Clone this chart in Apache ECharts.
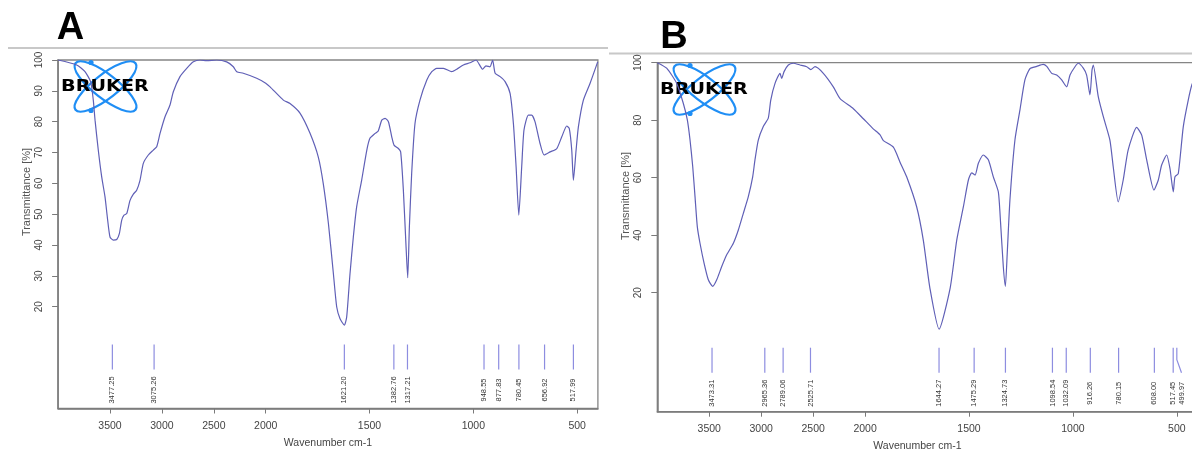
<!DOCTYPE html>
<html><head><meta charset="utf-8">
<script src="https://cdn.jsdelivr.net/npm/echarts@6/dist/echarts.min.js"></script>
<style>html,body{margin:0;padding:0;background:#fff}#c{width:1192px;height:450px}</style>
</head><body><div id="c"></div>
<script>
// ---- data ----
const xTickLabels = [3500, 3000, 2500, 2000, 1500, 1000, 500];
const yTicksA = [20, 30, 40, 50, 60, 70, 80, 90, 100];
const yTicksB = [20, 40, 60, 80, 100];

const wavenumberA = [4000,3821,3741,3686,3661,3644,3613,3580,3548,3526,3500,3468,3435,3410,3387,3365,3339,3307,3275,3243,3211,3179,3131,3083,3050,3018,2970,2922,2890,2826,2761,2697,2633,2568,2472,2376,2312,2279,2216,2087,2000,1979,1915,1883,1835,1787,1747,1723,1698,1674,1658,1642,1621,1610,1594,1578,1562,1538,1513,1498,1473,1458,1441,1425,1409,1393,1382,1361,1350,1337,1324,1316,1308,1297,1281,1257,1224,1200,1176,1144,1104,1080,1048,1016,987,955,939,920,907,895,871,847,823,807,794,781,767,756,735,719,703,679,659,630,598,574,550,538,526,518,505,494,470,438,401];
const transmittanceA = [100,98.4,96.2,92.9,87.0,80.5,70.8,62.1,55.6,49.1,42.6,41.6,41.8,43.7,48.1,49.7,50.2,54.5,56.5,57.8,61.0,66.5,69.2,70.8,71.9,76.2,81.6,85.4,89.7,94.6,97.3,99.4,100,99.8,100,99.4,97.8,96.2,95.7,94.1,92.5,91.3,87.0,85.9,82.8,76.3,68.6,60.0,47.0,30.7,19.9,16.1,14.0,16.7,30.7,42.6,52.4,61.0,70.8,74.6,76.2,77.0,80.5,81.1,80.0,75.1,72.4,71.3,70.2,57.8,39.4,29.4,45.9,63.2,79.4,87.0,93.5,96.2,97.3,97.3,96.2,97.0,98.4,99.1,100,97.0,98.1,97.8,100,95.7,94.6,93.0,89.2,79.4,65.4,49.7,65.4,77.3,82.1,82.1,80.0,73.0,69.2,70.2,71.3,75.1,78.6,77.8,70.8,61.0,70.8,78.3,87.0,92.4,99.4];

const wavenumberB = [4000,3910,3813,3750,3711,3685,3659,3637,3615,3589,3550,3509,3467,3428,3380,3332,3268,3220,3172,3124,3082,3060,3028,2980,2932,2908,2867,2819,2803,2780,2739,2691,2626,2562,2523,2482,2402,2306,2241,2113,2017,1961,1928,1912,1864,1832,1800,1752,1720,1688,1644,1591,1559,1527,1503,1487,1471,1455,1431,1407,1383,1359,1348,1335,1325,1316,1303,1279,1255,1231,1207,1174,1143,1126,1102,1078,1054,1030,1014,990,974,950,934,918,908,902,878,854,822,806,782,758,734,693,669,645,610,589,573,549,533,517,509,493,469,445,427,400];
const transmittanceB = [100,98.1,92.8,85.9,80.1,73.1,63.8,53.4,43.0,37.2,30.3,24.5,22.2,24.5,29.1,33.2,37.2,41.8,47.6,53.4,60.3,66.2,73.1,77.8,80.7,87.0,92.8,96.3,94.5,96.9,99.2,99.8,99.2,98.6,97.6,98.6,96.3,91.6,87.5,84.0,80.5,77.0,74.9,72.9,70.6,65.4,60.3,49.9,38.3,21.5,7.3,21.5,38.3,49.9,59.2,61.7,60.9,65.0,67.9,66.2,60.3,55.1,44.2,29.1,22.2,33.8,52.3,73.1,83.5,94.0,97.9,98.7,99.4,98.7,96.3,95.7,94.0,91.6,95.7,98.6,99.8,98.1,95.7,88.8,97.5,99.2,88.2,81.3,73.1,63.8,51.6,59.2,69.7,77.5,74.8,66.2,55.7,59.2,64.4,67.9,63.2,55.1,60.3,61.4,77.7,87.0,92.4,97];

const peaksA = [3477.25, 3075.26, 1621.20, 1382.76, 1317.21, 948.55, 877.83, 780.45, 656.92, 517.99];
const peaksB = [3473.31, 2965.36, 2789.06, 2525.71, 1644.27, 1475.29, 1324.73, 1098.54, 1032.09, 916.26, 780.15, 608.00, 517.45, 499.97];

// ---- OPUS-style split wavenumber scale (x2 expansion below 2000) ----
function toAxis(w) { return w >= 2000 ? (4000 - w) / 2 : 1000 + (2000 - w); }
function fromAxis(t) { return t <= 1000 ? 4000 - 2 * t : 3000 - t; }

const LINE = '#5f5fb6';
const PEAK = '#8d8de0';
const AXIS = '#7a7a7a';
const TXT = '#444';
const SANS = '"Liberation Sans", Arial, sans-serif';
const NARROW = '"Liberation Sans Narrow", "Arial Narrow", "Liberation Sans", sans-serif';
const yMins = [-13, -21.4];

function xa(gi, pad) {
  const tv = xTickLabels.map(toAxis);
  return {
    type: 'value', gridIndex: gi, min: 0, max: 2600,
    axisLine: { show: true, onZero: false, lineStyle: { color: AXIS, width: 1.5 } },
    axisTick: { show: true, length: 5, customValues: tv, lineStyle: { color: AXIS } },
    axisLabel: { customValues: tv, formatter: v => String(Math.round(fromAxis(v))), margin: 12,
      fontSize: 10.5, color: TXT, fontFamily: SANS },
    splitLine: { show: false },
    name: 'Wavenumber cm-1', nameLocation: 'middle', nameGap: 29,
    nameTextStyle: { fontSize: 10.5, color: TXT, fontFamily: SANS, padding: pad }
  };
}
function ya(gi, ticks) {
  return {
    type: 'value', gridIndex: gi, min: yMins[gi], max: 100,
    axisLine: { show: true, onZero: false, lineStyle: { color: AXIS, width: 1.5 } },
    axisTick: { show: true, length: 6, customValues: ticks, lineStyle: { color: AXIS } },
    axisLabel: { customValues: ticks, rotate: 90, margin: 14, fontSize: 10, color: TXT, fontFamily: NARROW },
    splitLine: { show: false }
  };
}
function spectrum(gi, wn, tr) {
  return {
    type: 'line', xAxisIndex: gi, yAxisIndex: gi, silent: true,
    data: wn.map((w, i) => [toAxis(w), tr[i]]),
    showSymbol: false, symbol: 'none', smooth: 0.2, clip: true,
    lineStyle: { color: LINE, width: 1.2 }
  };
}
function peakSeries(gi, peaks) {
  const sorted = peaks.slice().sort((a, b) => b - a);
  let prev = -Infinity;
  const items = sorted.map(w => {
    const t = toAxis(w);
    const lt = Math.max(t, prev + 40);
    prev = lt;
    return [t, lt, w];
  });
  return {
    type: 'custom', xAxisIndex: gi, yAxisIndex: gi, silent: true, clip: false,
    encode: { x: 0 },
    data: items,
    renderItem(params, api) {
      const t = api.value(0), lt = api.value(1), w = api.value(2);
      const p = api.coord([t, yMins[gi]]);
      const q = api.coord([lt, yMins[gi]]);
      const yb = p[1];
      const pts = (Math.abs(q[0] - p[0]) > 0.5)
        ? [[p[0], yb - 64], [p[0], yb - 52], [q[0], yb - 39]]
        : [[p[0], yb - 64], [p[0], yb - 39]];
      return {
        type: 'group',
        children: [
          { type: 'polyline', shape: { points: pts }, style: { stroke: PEAK, lineWidth: 1.2, fill: 'none' } },
          { type: 'text', x: q[0], y: yb - 18.5, rotation: Math.PI / 2,
            style: { text: w.toFixed(2), fontSize: 7.5, fontFamily: SANS, fill: '#333', align: 'center', verticalAlign: 'middle' } }
        ]
      };
    }
  };
}
function logo(cx, cy) {
  const blue = '#1f8ef5';
  const ell = r => ({ type: 'ellipse', shape: { cx: 0, cy: 0, rx: 38, ry: 12 }, rotation: r,
    style: { fill: 'none', stroke: blue, lineWidth: 2.2 } });
  return {
    type: 'group', x: cx, y: cy, silent: true,
    children: [
      ell(0.66), ell(-0.66),
      { type: 'circle', shape: { cx: -14.5, cy: -24, r: 2.6 }, style: { fill: blue } },
      { type: 'circle', shape: { cx: -14.5, cy: 24, r: 2.6 }, style: { fill: blue } },
      { type: 'text', x: -0.5, y: 0.5, scaleX: 1.28,
        style: { text: 'BRUKER', font: 'bold 15px "DejaVu Sans"', fill: '#000', align: 'center', verticalAlign: 'middle' } }
    ]
  };
}
function yName(x, y) {
  return { type: 'text', x, y, rotation: Math.PI / 2, silent: true,
    style: { text: 'Transmittance [%]', fontSize: 11, fontFamily: SANS, fill: '#555', align: 'center', verticalAlign: 'middle' } };
}

const chart = echarts.init(document.getElementById('c'), null, { renderer: 'canvas' });
chart.setOption({
  animation: false,
  backgroundColor: '#fff',
  grid: [
    { left: 58.1, top: 60, width: 539.8, height: 348.5, show: true, borderColor: '#858585', borderWidth: 1.3, outerBoundsMode: 'none' },
    { left: 657.3, top: 62.7, width: 540.3, height: 349, show: true, borderColor: '#858585', borderWidth: 1.3, outerBoundsMode: 'none' }
  ],
  xAxis: [xa(0, [0, 0, 0, 0]), xa(1, [0, 20, 0, 0])],
  yAxis: [ya(0, yTicksA), ya(1, yTicksB)],
  series: [
    spectrum(0, wavenumberA, transmittanceA),
    spectrum(1, wavenumberB, transmittanceB),
    peakSeries(0, peaksA),
    peakSeries(1, peaksB)
  ],
  graphic: [
    { type: 'line', silent: true, shape: { x1: 8, y1: 48, x2: 608, y2: 48 }, style: { stroke: '#c8c8c8', lineWidth: 2 } },
    { type: 'line', silent: true, shape: { x1: 609, y1: 53.5, x2: 1192, y2: 53.5 }, style: { stroke: '#c8c8c8', lineWidth: 2 } },
    { type: 'text', x: 70.5, y: 28.5, silent: true, style: { text: 'A', font: 'bold 38px "Liberation Sans"', fill: '#000', align: 'center', verticalAlign: 'middle' } },
    { type: 'text', x: 674, y: 38, silent: true, style: { text: 'B', font: 'bold 38px "Liberation Sans"', fill: '#000', align: 'center', verticalAlign: 'middle' } },
    logo(105.5, 86.5),
    logo(704.5, 89.5),
    yName(27, 192),
    yName(626, 196)
  ]
});
</script>
</body></html>
